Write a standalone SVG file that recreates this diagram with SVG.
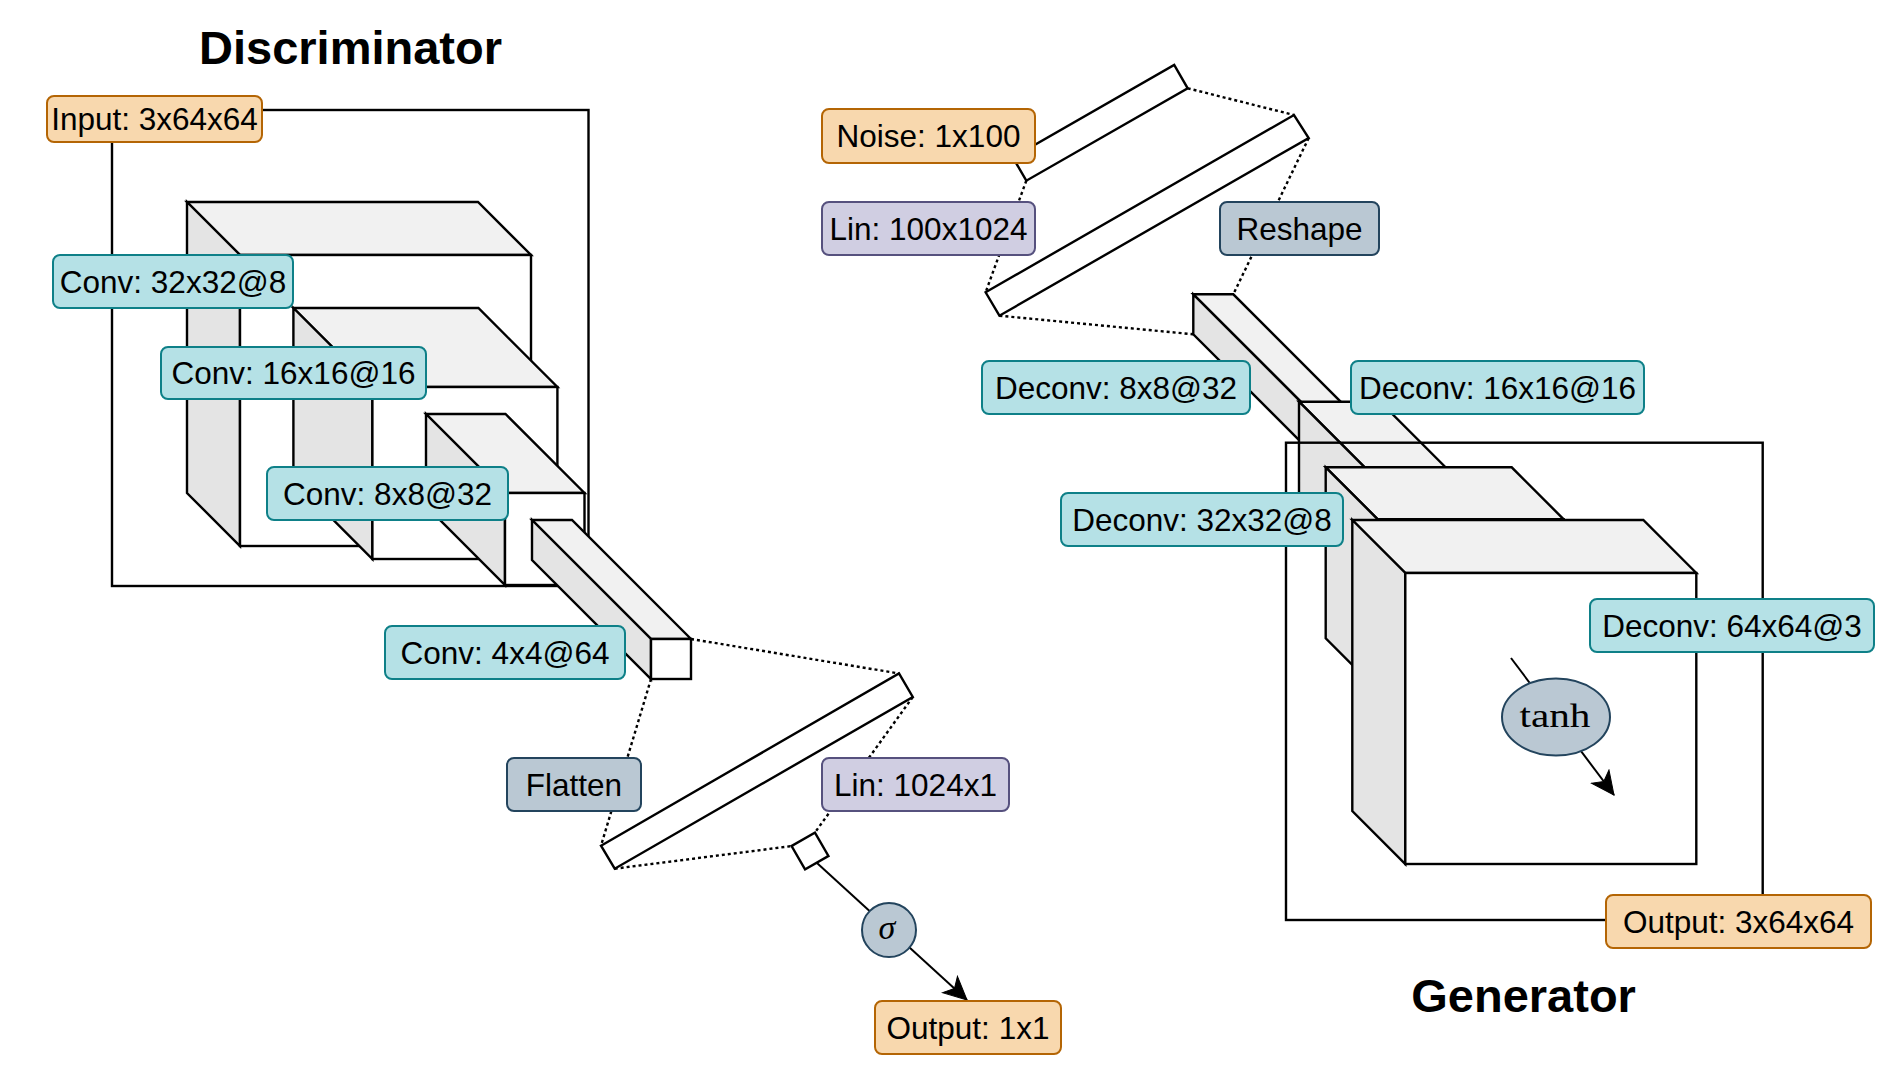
<svg xmlns="http://www.w3.org/2000/svg" width="1896" height="1074" viewBox="0 0 1896 1074">
<defs>
<style>
.lbl{font-family:"Liberation Sans",Arial,Helvetica,sans-serif;font-size:31.5px;fill:#000;text-anchor:middle}
.title{font-family:"Liberation Sans",Arial,Helvetica,sans-serif;font-size:47px;font-weight:bold;fill:#000;text-anchor:middle}
.math{font-family:"Liberation Serif","Times New Roman",serif;fill:#000;text-anchor:middle}
.orange{fill:#f8d8ae;stroke:#b46504;stroke-width:2}
.cyan{fill:#b5e1e6;stroke:#0e8088;stroke-width:2}
.purple{fill:#d0cee2;stroke:#56517e;stroke-width:2}
.gray{fill:#bac8d3;stroke:#23445d;stroke-width:2}
.top{fill:#f1f1f1;stroke:#000;stroke-width:2.4;stroke-linejoin:miter}
.side{fill:#e4e4e4;stroke:#000;stroke-width:2.4}
.front{fill:#fff;stroke:#000;stroke-width:2.4}
.frame{fill:none;stroke:#000;stroke-width:2.4}
.bar{fill:#fff;stroke:#000;stroke-width:2.4}
.dot{fill:none;stroke:#000;stroke-width:2.4;stroke-dasharray:3 3}
.arrow{fill:none;stroke:#000;stroke-width:2}
</style>
<marker id="ah" viewBox="-24 -12 25 24" markerWidth="25" markerHeight="24" refX="0" refY="0" orient="auto" markerUnits="userSpaceOnUse">
<path d="M0,0 L-23,-11 L-17,0 L-23,11 Z" fill="#000" stroke="#000" stroke-width="1"/>
</marker>
</defs>
<rect width="1896" height="1074" fill="#fff"/>

<text class="title" x="350.5" y="64">Discriminator</text>
<text class="title" x="1523.6" y="1011.5">Generator</text>

<!-- Discriminator -->
<g id="d-input-frame"><rect class="frame" x="112" y="110" width="476.5" height="476"/></g>

<g id="d-cube1">
<polygon class="top" points="187,202 478,202 531,255 240,255"/>
<polygon class="side" points="187,202 240,255 240,546 187,493"/>
<rect class="front" x="240" y="255" width="291" height="291"/>
</g>
<g id="d-cube2">
<polygon class="top" points="293.4,308 478.4,308 557.4,387 372.4,387"/>
<polygon class="side" points="293.4,308 372.4,387 372.4,559 293.4,480"/>
<rect class="front" x="372.4" y="387" width="185" height="172"/>
</g>
<g id="d-cube3">
<polygon class="top" points="426,414 505.5,414 584.5,493 505,493"/>
<polygon class="side" points="426,414 505,493 505,585 426,506"/>
<rect class="front" x="505" y="493" width="79.5" height="92"/>
</g>
<g id="d-cube4">
<polygon class="top" points="532,520 572,520 691,639 651,639"/>
<polygon class="side" points="532,520 651,639 651,679 532,560"/>
<rect class="front" x="651" y="639" width="40" height="40"/>
</g>

<g id="d-flatbar"><polygon class="bar" points="601,845.7 899,673.5 912.8,697 614.7,868.7"/></g>
<g id="d-outsq"><rect class="bar" x="796.5" y="837.5" width="27" height="27" transform="rotate(-30 810 851)"/></g>

<!-- Generator -->
<g id="g-noisebar"><polygon class="bar" points="1012.8,157.4 1174.2,65 1187.7,88.3 1026.3,180.7"/></g>
<g id="g-linbar"><polygon class="bar" points="985.6,292.3 1294,115 1308.7,138 999.4,315.7"/></g>

<g id="g-cubeA">
<polygon class="top" points="1193.3,294.3 1233.3,294.3 1352.3,413.3 1312.3,413.3"/>
<polygon class="side" points="1193.3,294.3 1312.3,413.3 1312.3,453.3 1193.3,334.3"/>
<rect class="front" x="1312.3" y="413.3" width="40" height="40"/>
</g>
<g id="g-cubeB">
<polygon class="top" points="1299,401.7 1380,401.7 1459,480.7 1378,480.7"/>
<polygon class="side" points="1299,401.7 1378,480.7 1378,572.7 1299,493.7"/>
<rect class="front" x="1378" y="480.7" width="81" height="92"/>
</g>
<g id="g-output-frame"><rect class="frame" x="1286" y="442.7" width="476.7" height="477.3"/></g>
<g id="g-cubeC">
<polygon class="top" points="1325.7,467.3 1511.7,467.3 1563.7,519.3 1377.7,519.3"/>
<polygon class="side" points="1325.7,467.3 1377.7,519.3 1377.7,690.3 1325.7,638.3"/>
<rect class="front" x="1377.7" y="519.3" width="186" height="171"/>
</g>
<g id="g-cubeD">
<polygon class="top" points="1352.3,520 1643.3,520 1696.3,573 1405.3,573"/>
<polygon class="side" points="1352.3,520 1405.3,573 1405.3,864 1352.3,811"/>
<rect class="front" x="1405.3" y="573" width="291" height="291"/>
</g>

<!-- Connectors -->
<g id="connectors">
<line class="dot" x1="691" y1="639" x2="899" y2="673.5"/>
<line class="dot" x1="651" y1="679" x2="601" y2="845.7"/>
<line class="dot" x1="614.7" y1="868.7" x2="791.6" y2="846.1"/>
<line class="dot" x1="912.8" y1="697" x2="814.9" y2="832.6"/>
<line class="dot" x1="1187.7" y1="88.3" x2="1294" y2="115"/>
<line class="dot" x1="1026.3" y1="180.7" x2="985.6" y2="292.3"/>
<line class="dot" x1="1308.7" y1="138" x2="1233.3" y2="294.3"/>
<line class="dot" x1="999.4" y1="315.7" x2="1193.3" y2="334.3"/>
<line class="arrow" x1="816.7" y1="862.7" x2="967" y2="1000" marker-end="url(#ah)"/>
<line class="arrow" x1="1511" y1="658" x2="1614" y2="795" marker-end="url(#ah)"/>
</g>

<!-- Labels -->
<g id="n-input"><rect class="orange" x="47" y="96" width="215" height="46" rx="7"/><text class="lbl" x="154.5" y="130">Input: 3x64x64</text></g>
<g id="n-conv1"><rect class="cyan" x="53" y="255" width="240" height="53" rx="7"/><text class="lbl" x="173" y="292.5">Conv: 32x32@8</text></g>
<g id="n-conv2"><rect class="cyan" x="161" y="347" width="265" height="52" rx="7"/><text class="lbl" x="293.5" y="384">Conv: 16x16@16</text></g>
<g id="n-conv3"><rect class="cyan" x="267" y="467" width="241" height="53" rx="7"/><text class="lbl" x="387.5" y="504.5">Conv: 8x8@32</text></g>
<g id="n-conv4"><rect class="cyan" x="385" y="626" width="240" height="53" rx="7"/><text class="lbl" x="505" y="663.5">Conv: 4x4@64</text></g>
<g id="n-flatten"><rect class="gray" x="507" y="758" width="134" height="53" rx="7"/><text class="lbl" x="574" y="795.5">Flatten</text></g>
<g id="n-lin1"><rect class="purple" x="822" y="758" width="187" height="53" rx="7"/><text class="lbl" x="915.5" y="795.5">Lin: 1024x1</text></g>
<g id="n-sigma"><circle class="gray" cx="889" cy="930" r="27"/><text class="math" x="887" y="939" font-size="34" font-style="italic">σ</text></g>
<g id="n-out1"><rect class="orange" x="875" y="1001" width="186" height="53" rx="7"/><text class="lbl" x="968" y="1038.5">Output: 1x1</text></g>

<g id="n-noise"><rect class="orange" x="822" y="109" width="213" height="54" rx="7"/><text class="lbl" x="928.5" y="147">Noise: 1x100</text></g>
<g id="n-lin2"><rect class="purple" x="822" y="202" width="213" height="53" rx="7"/><text class="lbl" x="928.5" y="239.5">Lin: 100x1024</text></g>
<g id="n-reshape"><rect class="gray" x="1220" y="202" width="159" height="53" rx="7"/><text class="lbl" x="1299.5" y="239.5">Reshape</text></g>
<g id="n-deconv1"><rect class="cyan" x="982" y="361" width="268" height="53" rx="7"/><text class="lbl" x="1116" y="398.5">Deconv: 8x8@32</text></g>
<g id="n-deconv2"><rect class="cyan" x="1351" y="361" width="293" height="53" rx="7"/><text class="lbl" x="1497.5" y="398.5">Deconv: 16x16@16</text></g>
<g id="n-deconv3"><rect class="cyan" x="1061" y="493" width="282" height="53" rx="7"/><text class="lbl" x="1202" y="530.5">Deconv: 32x32@8</text></g>
<g id="n-deconv4"><rect class="cyan" x="1590" y="599" width="284" height="53" rx="7"/><text class="lbl" x="1732" y="636.5">Deconv: 64x64@3</text></g>
<g id="n-tanh"><ellipse class="gray" cx="1556" cy="717" rx="54" ry="38.5"/><text class="math" x="1555" y="727" font-size="34" textLength="71" lengthAdjust="spacingAndGlyphs">tanh</text></g>
<g id="n-out2"><rect class="orange" x="1606" y="895" width="265" height="53" rx="7"/><text class="lbl" x="1738.5" y="932.5">Output: 3x64x64</text></g>
</svg>
